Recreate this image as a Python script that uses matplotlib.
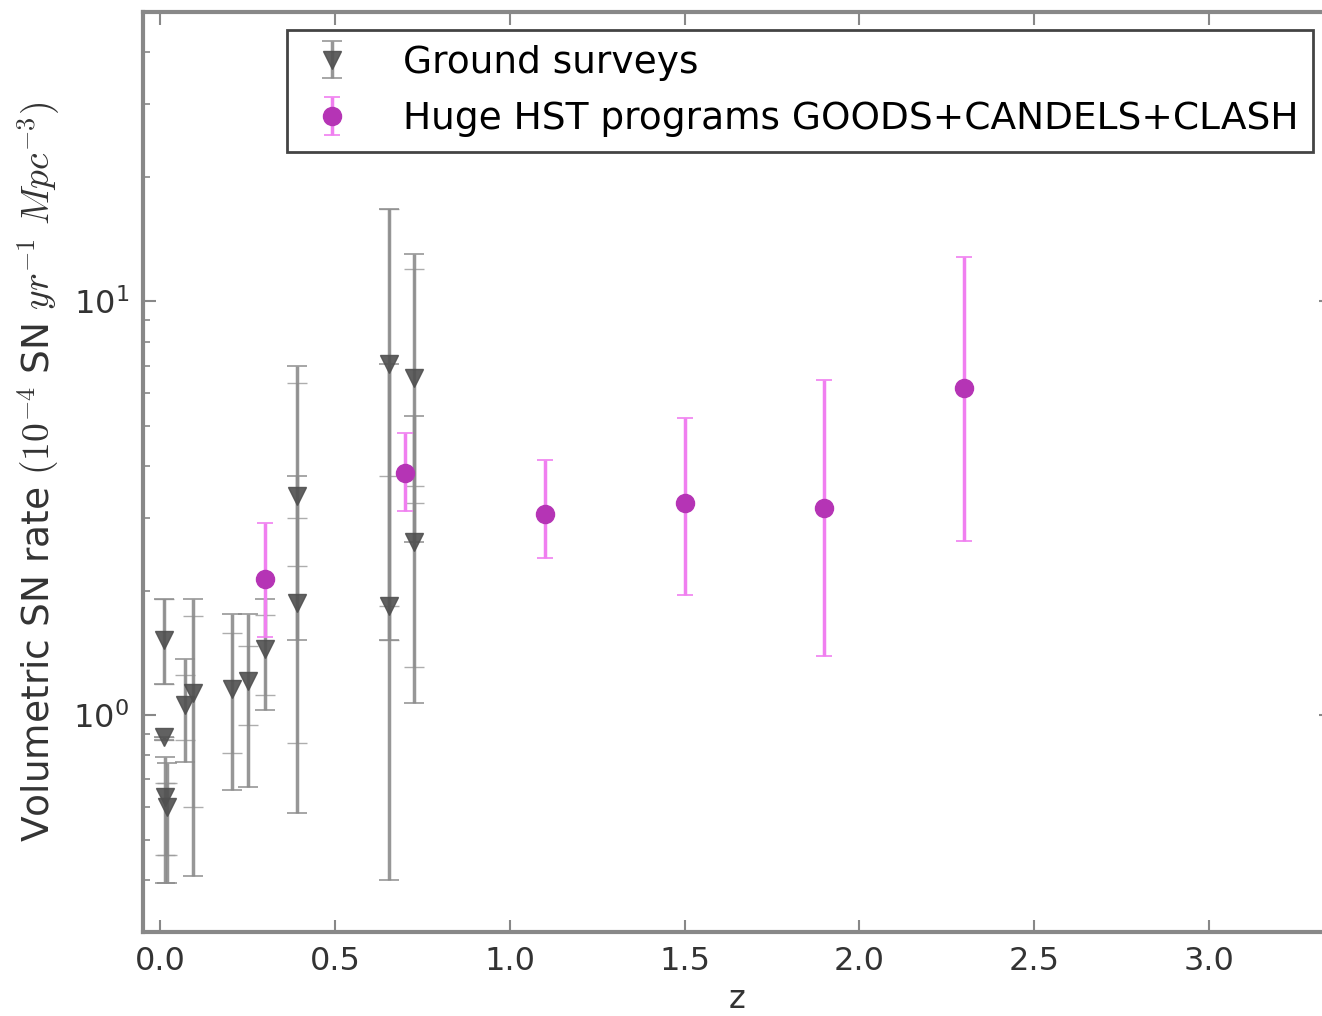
import numpy as np
import matplotlib
matplotlib.use("Agg")
import matplotlib.pyplot as plt

# Ground surveys (down triangles): rate, total error range, inner (stat) range
g_z = [0.01, 0.01, 0.015, 0.018, 0.07, 0.095, 0.205, 0.25, 0.30, 0.39, 0.39, 0.655, 0.655, 0.727, 0.727]
g_rate = [1.52, 0.885, 0.634, 0.60, 1.06, 1.13, 1.16, 1.21, 1.45, 3.39, 1.87, 7.05, 1.84, 6.52, 2.62]
g_lo = [1.19, 0.87, 0.394, 0.394, 0.77, 0.41, 0.66, 0.67, 1.03, 1.52, 0.58, 1.52, 0.40, 2.62, 1.07]
g_hi = [1.91, 0.885, 0.792, 0.766, 1.37, 1.91, 1.76, 1.76, 1.91, 6.97, 3.79, 16.7, 7.05, 13.0, 5.3]
g_stat_lo = [1.19, 0.87, 0.46, 0.46, 0.87, 0.60, 0.81, 0.95, 1.12, 2.3, 0.856, 3.79, 1.52, 3.58, 1.31]
g_stat_hi = [1.91, 0.885, 0.686, 0.686, 1.25, 1.74, 1.58, 1.47, 1.75, 6.35, 3.0, 16.7, 1.84, 12.0, 3.26]

# Huge HST programs (circles)
h_z = [0.30, 0.70, 1.10, 1.50, 1.90, 2.30]
h_rate = [2.14, 3.85, 3.07, 3.26, 3.17, 6.17]
h_lo = [1.55, 3.12, 2.40, 1.95, 1.39, 2.64]
h_hi = [2.92, 4.81, 4.14, 5.22, 6.45, 12.8]

plt.rcParams['font.family'] = ['DejaVu Sans']
plt.rcParams['mathtext.fontset'] = 'cm'

fig = plt.figure(figsize=(13.22, 10.16), dpi=100)
ax = fig.add_axes([0.108, 0.083, 0.899, 0.905])

g_rate = np.array(g_rate)
h_rate = np.array(h_rate)
g_err = [g_rate - np.array(g_lo), np.array(g_hi) - g_rate]
g_serr = [g_rate - np.array(g_stat_lo), np.array(g_stat_hi) - g_rate]
h_err = [h_rate - np.array(h_lo), np.array(h_hi) - h_rate]

ax.errorbar(g_z, g_rate, yerr=g_serr, fmt='none', ecolor='#999999', elinewidth=1.0,
            capsize=7, capthick=1.0, alpha=0.8)
ax.errorbar(g_z, g_rate, yerr=g_err, fmt='v', color='#505050', ms=13, mec='#505050',
            ecolor='#8c8c8c', elinewidth=2.5, capsize=7, capthick=1.2, alpha=0.9,
            label='Ground surveys')
ax.errorbar(h_z, h_rate, yerr=h_err, fmt='o', color='#b534b5', ms=13, mec='#b534b5',
            ecolor='#f07ff0', elinewidth=2.5, capsize=6, capthick=1.2,
            label='Huge HST programs GOODS+CANDELS+CLASH')

ax.set_yscale('log')
ax.set_xlim(-0.05, 3.35)
ax.set_ylim(0.3, 50)
ax.set_xticks([0.0, 0.5, 1.0, 1.5, 2.0, 2.5, 3.0])

ax.tick_params(which='both', direction='in', top=True, right=True, colors='#888888',
               labelcolor='#333333', labelsize=23, pad=10)
ax.tick_params(which='major', length=9, width=1.5)
ax.tick_params(which='minor', length=5, width=1.2)
for s in ax.spines.values():
    s.set_color('#888888')
    s.set_linewidth(3)

ax.set_xlabel('z', fontsize=23, color='#333333', labelpad=5)
ax.set_ylabel(r'Volumetric SN rate $(10^{-4}$ SN $yr^{-1}\ Mpc^{-3})$', fontsize=27,
              color='#333333', labelpad=8)

leg = ax.legend(loc='upper right', bbox_to_anchor=(0.985, 0.981), numpoints=1,
                fontsize=27, fancybox=False, framealpha=1, borderpad=0.4,
                handlelength=1.6, handletextpad=1.1, borderaxespad=0, labelspacing=0.55)
leg.get_frame().set_edgecolor('#444444')
leg.get_frame().set_linewidth(2)

fig.savefig('out.png', dpi=100)
